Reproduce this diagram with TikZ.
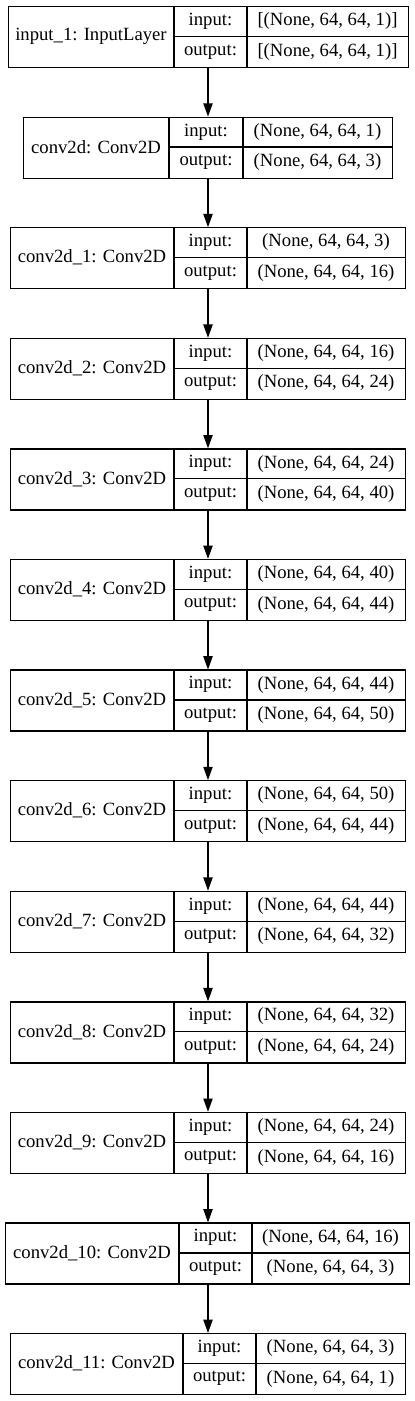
\documentclass[tikz,border=0pt]{standalone}
\usepackage{fontspec}
\setmainfont{Liberation Serif}
\usetikzlibrary{arrows.meta}
\tikzset{
  box/.style={draw, line width=1.3pt, inner sep=0pt, anchor=north west, minimum height=61pt},
  divline/.style={line width=1.3pt},
  cell/.style={inner sep=0pt, font=\fontsize{18.67}{22}\selectfont},
  arr/.style={-{Triangle[length=13.3pt,width=9.3pt]}, line width=1.3pt}
}
\newcommand\mylayer[8]{%
  \pgfmathsetmacro\myytop{-(6+110.58*#1)}%
  \pgfmathsetmacro\myybot{\myytop-61}%
  \pgfmathsetmacro\myymid{\myytop-30.5}%
  \pgfmathsetmacro\myyin{\myytop-15.25}%
  \pgfmathsetmacro\myyout{\myytop-45.75}%
  \pgfmathsetmacro\myboxw{#5-#2}%
  \pgfmathsetmacro\myxa{(#2+#3)/2}%
  \pgfmathsetmacro\myxb{(#3+#4)/2}%
  \pgfmathsetmacro\myxc{(#4+#5)/2}%
  \node[box, minimum width=\myboxw pt] (L#1) at (#2pt,\myytop pt) {};
  \draw[divline] (#3pt,\myytop pt) -- (#3pt,\myybot pt);
  \draw[divline] (#4pt,\myytop pt) -- (#4pt,\myybot pt);
  \draw[divline] (#3pt,\myymid pt) -- (#5pt,\myymid pt);
  \node[cell] (N#1) at (\myxa pt,\myymid pt) {#6};
  \node[cell] (I#1) at (\myxb pt,\myyin pt) {input:};
  \node[cell] (O#1) at (\myxb pt,\myyout pt) {output:};
  \node[cell] (IV#1) at (\myxc pt,\myyin pt) {#7};
  \node[cell] (OV#1) at (\myxc pt,\myyout pt) {#8};
}
\begin{document}
\begin{tikzpicture}
\useasboundingbox (0pt,0pt) rectangle (415pt,-1401pt);
\coordinate (X) at (208pt,0pt);
\mylayer{0}{8}{174}{247}{408}{input\_1: InputLayer}{[(None, 64, 64, 1)]}{[(None, 64, 64, 1)]}
\mylayer{1}{23}{169}{243}{392}{conv2d: Conv2D}{(None, 64, 64, 1)}{(None, 64, 64, 3)}
\mylayer{2}{10}{174}{247}{405}{conv2d\_1: Conv2D}{(None, 64, 64, 3)}{(None, 64, 64, 16)}
\mylayer{3}{10}{174}{247}{405}{conv2d\_2: Conv2D}{(None, 64, 64, 16)}{(None, 64, 64, 24)}
\mylayer{4}{10}{174}{247}{405}{conv2d\_3: Conv2D}{(None, 64, 64, 24)}{(None, 64, 64, 40)}
\mylayer{5}{10}{174}{247}{405}{conv2d\_4: Conv2D}{(None, 64, 64, 40)}{(None, 64, 64, 44)}
\mylayer{6}{10}{174}{247}{405}{conv2d\_5: Conv2D}{(None, 64, 64, 44)}{(None, 64, 64, 50)}
\mylayer{7}{10}{174}{247}{405}{conv2d\_6: Conv2D}{(None, 64, 64, 50)}{(None, 64, 64, 44)}
\mylayer{8}{10}{174}{247}{405}{conv2d\_7: Conv2D}{(None, 64, 64, 44)}{(None, 64, 64, 32)}
\mylayer{9}{10}{174}{247}{405}{conv2d\_8: Conv2D}{(None, 64, 64, 32)}{(None, 64, 64, 24)}
\mylayer{10}{10}{174}{247}{405}{conv2d\_9: Conv2D}{(None, 64, 64, 24)}{(None, 64, 64, 16)}
\mylayer{11}{5}{179}{252}{409}{conv2d\_10: Conv2D}{(None, 64, 64, 16)}{(None, 64, 64, 3)}
\mylayer{12}{10}{183}{256}{405}{conv2d\_11: Conv2D}{(None, 64, 64, 3)}{(None, 64, 64, 1)}
\foreach \a/\b in {0/1,1/2,2/3,3/4,4/5,5/6,6/7,7/8,8/9,9/10,10/11,11/12}{
  \draw[arr] (L\a.south -| X) -- (L\b.north -| X);
}
\end{tikzpicture}
\end{document}
